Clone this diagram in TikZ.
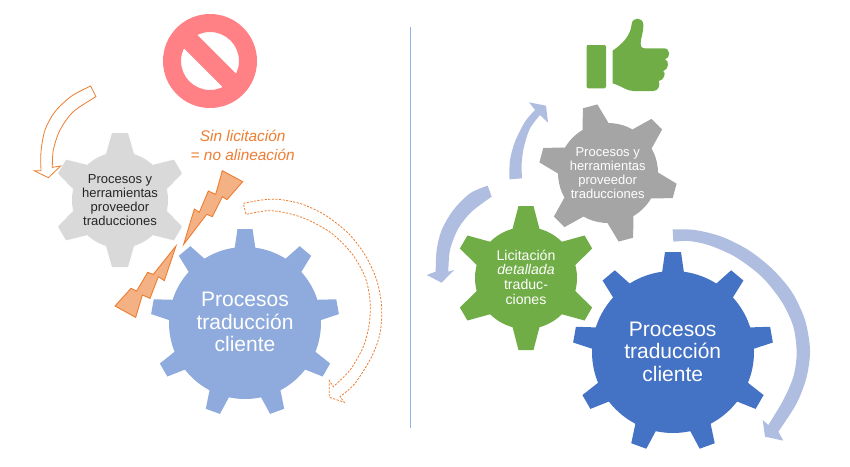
\documentclass[tikz,border=0pt]{standalone}
\usepackage{fontspec}
\setmainfont{Liberation Sans}
\definecolor{gearlight}{HTML}{D9D9D9}
\definecolor{gearpale}{HTML}{8FAADC}
\definecolor{geargray}{HTML}{A5A5A5}
\definecolor{geargreen}{HTML}{70AD47}
\definecolor{gearblue}{HTML}{4472C4}
\definecolor{arrowblue}{HTML}{AFBDE0}
\definecolor{warnorange}{HTML}{ED7D31}
\definecolor{boltfill}{HTML}{F4B183}
\definecolor{stopred}{HTML}{FF8085}
\definecolor{inkdark}{HTML}{262626}
\definecolor{divblue}{HTML}{8FB0E8}
\newcommand{\gearshape}[9]{% name cx cy r R n start base tip (colour via \gearcolor)
  \foreach \k in {1,...,#6} {
    \pgfmathsetmacro{\ang}{#7+(\k-1)*360/#6}
    \fill[\gearcolor,shift={(#2,#3)},rotate=\ang]
      (#4-2,-#8) -- (#5,-#9) -- (#5,#9) -- (#4-2,#8) -- cycle;
  }
  \fill[\gearcolor] (#2,#3) circle[radius=#4];
}
\tikzset{
  gearlabel/.style={inner sep=0pt,align=center},
  smalltext/.style={gearlabel,font=\fontsize{13}{14}\selectfont},
  midtext/.style={gearlabel,font=\fontsize{14.1}{14.7}\selectfont},
  bigtext/.style={gearlabel,font=\fontsize{21}{22.6}\selectfont},
  bolt/.style={draw=warnorange,fill=boltfill,line width=0.9pt,line join=miter},
  hollowarrow/.style={draw=warnorange,fill=white,line width=0.8pt},
  dashedarrow/.style={draw=warnorange,dash pattern=on 2.2pt off 1.4pt,line width=0.8pt},
  softarrow/.style={fill=arrowblue},
  zoomed/.style={x=0.33333pt,y=-0.33333pt}
}
\begin{document}
\begin{tikzpicture}[x=1pt,y=-1pt]
\useasboundingbox (0,0) rectangle (850,466);
% divider
\coordinate (divtop) at (410.5,27);
\coordinate (divbot) at (410.5,428);
\draw[divblue,line width=1.2pt] (divtop) -- (divbot);
% prohibition sign
\begin{scope}
  \fill[stopred,even odd rule] (210,61) circle[radius=47] (210,61) circle[radius=29];
  \fill[stopred,shift={(210,61)},rotate=-45] (-38,-9.5) rectangle (38,9.5);
\end{scope}
% thumb up
\begin{scope}[shift={(420,10)},zoomed]
  \fill[geargreen,rounded corners=1.5pt] (500,105) -- (558,105) -- (558,235) -- (500,235) -- cycle;
  \fill[geargreen] (500,105) rectangle (530,235);
  \fill[geargreen] (578,122) .. controls (610,100) and (632,75) .. (635,42)
     .. controls (637,20) and (670,20) .. (670,45)
     .. controls (670,70) and (662,85) .. (662,100)
     .. controls (662,110) and (665,115) .. (675,115)
     -- (732,115) .. controls (752,115) and (752,145) .. (735,148)
     .. controls (750,152) and (745,180) .. (730,183)
     .. controls (740,190) and (730,212) .. (716,213)
     .. controls (722,225) and (715,243) .. (700,243)
     -- (640,243) .. controls (620,243) and (605,228) .. (578,220) -- cycle;
\end{scope}
% gears
\def\gearcolor{gearlight}
\gearshape{a}{120}{200}{48}{67}{6}{90}{14}{8}
\def\gearcolor{gearpale}
\gearshape{b}{245}{323}{76}{94}{9}{90}{10.5}{7.5}
\def\gearcolor{geargray}
\gearshape{c}{608}{173}{50}{69}{6}{45}{13.5}{7.5}
\def\gearcolor{geargreen}
\gearshape{d}{526}{278}{51}{72}{6}{90}{13.5}{7.5}
\def\gearcolor{gearblue}
\gearshape{e}{673}{352}{81}{100}{9}{90}{11}{8}
% gear labels
\node[smalltext,text=inkdark] (alabel) at (120,200.5) {Procesos y\\herramientas\\proveedor\\traducciones};
\node[bigtext,text=white] (blabel) at (245,322) {Procesos\\traducción\\cliente};
\node[smalltext,text=white] (clabel) at (607.7,173) {Procesos y\\herramientas\\proveedor\\traducciones};
\node[midtext,text=white] (dlabel) at (526,277) {Licitación\\\textit{detallada}\\traduc-\\ciones};
\node[bigtext,text=white] (elabel) at (672.7,351.7) {Procesos\\traducción\\cliente};
\node[gearlabel,text=warnorange,font=\fontsize{15.4}{19}\selectfont\itshape] (warn) at (242.7,145.5) {Sin licitación\\= no alineación};
% lightning bolts
\begin{scope}[shift={(105,165)},zoomed]
  \draw[bolt] (352,17) -- (413,50) -- (366,104) -- (352,95) -- (322,155) -- (305,148) -- (236,238) -- (268,132) -- (283,142) -- (310,78) -- (332,88) -- cycle;
  \draw[bolt] (213,243) -- (178,347) -- (160,335) -- (135,400) -- (112,390) -- (92,457) -- (30,423) -- (78,370) -- (95,378) -- (128,322) -- (145,328) -- cycle;
\end{scope}
% hollow arrow, left
\begin{scope}[shift={(25,80)},zoomed]
  \draw[hollowarrow] plot[smooth] coordinates {(197,18) (140,48) (90,95) (60,150) (48,215) (48,272)}
    -- (27,272) -- (70,293) -- (107,258) -- (82,262)
    -- plot[smooth] coordinates {(82,262) (85,210) (105,150) (145,95) (213,50)} -- cycle;
\end{scope}
% dashed arrow
\begin{scope}[shift={(235,190)},zoomed]
  \draw[dashedarrow] plot[smooth] coordinates {(25,40) (80,30) (130,28) (200,42) (270,75) (340,130) (390,195) (425,270) (440,350) (435,430) (410,500) (360,580) (315,620)}
    -- (328,637) -- (283,622) -- (283,572) -- (295,590)
    -- plot[smooth] coordinates {(295,590) (345,540) (385,470) (403,400) (405,330) (390,260) (350,190) (290,130) (220,90) (160,70) (100,62) (33,73)} -- cycle;
\end{scope}
% big soft arrow
\begin{scope}[shift={(665,220)},zoomed]
  \fill[softarrow] plot[smooth] coordinates {(23,28) (90,30) (170,50) (250,90) (320,145) (380,215) (420,300) (435,390) (425,470) (395,550) (340,635)}
    -- (355,662) -- (300,650) -- (293,600) -- (310,615)
    -- plot[smooth] coordinates {(310,615) (355,540) (385,470) (395,400) (385,320) (350,245) (290,170) (210,110) (130,75) (70,63) (25,65)} -- cycle;
\end{scope}
% soft arrows beside the small gears
\begin{scope}[shift={(420,90)},zoomed]
  \fill[softarrow] plot[smooth] coordinates {(268,268) (270,210) (285,155) (315,95) (345,60)}
    -- (327,37) -- (378,47) -- (384,98) -- (360,75)
    -- plot[smooth] coordinates {(360,75) (330,115) (312,170) (305,220) (306,265)} -- cycle;
  \fill[softarrow] plot[smooth] coordinates {(203,287) (150,310) (100,360) (65,420) (50,480) (47,545)}
    -- (20,555) -- (65,578) -- (102,540) -- (85,545)
    -- plot[smooth] coordinates {(85,545) (90,480) (115,415) (155,365) (215,320)} -- cycle;
\end{scope}
\end{tikzpicture}
\end{document}
